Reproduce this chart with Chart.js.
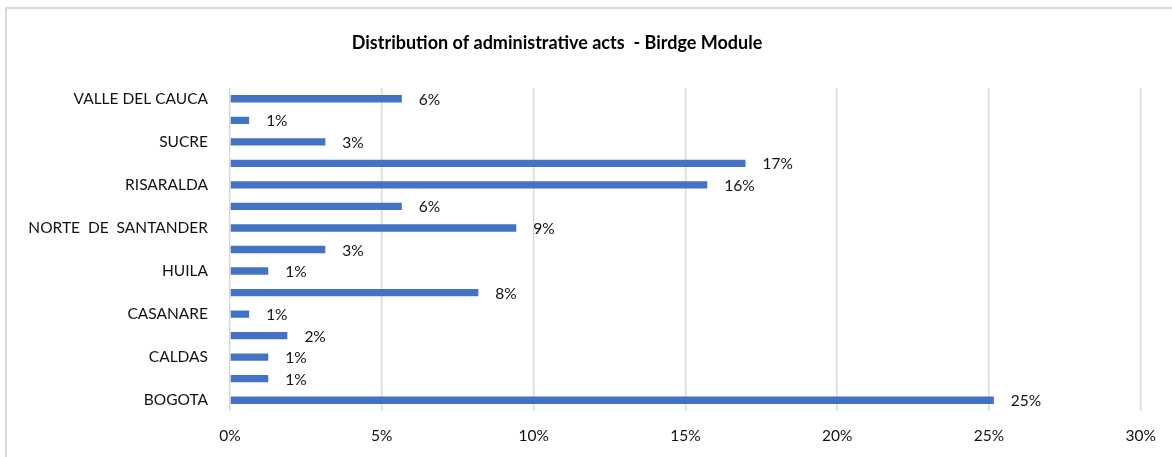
<!DOCTYPE html>
<html>
<head>
<meta charset="utf-8">
<script src="https://cdn.jsdelivr.net/npm/chart.js@4.4.1/dist/chart.umd.min.js"></script>
<style>
html, body { margin: 0; padding: 0; background: #fff; overflow: hidden; }
#frame { position: absolute; left: 5px; top: 7px; width: 1200px; height: 480px; border: 2px solid #d9d9d9; box-sizing: border-box; }
#wrap { position: absolute; left: 0; top: 0; width: 1172px; height: 457px; }
</style>
</head>
<body>
<div id="frame"></div>
<div id="wrap"><canvas id="chart"></canvas></div>
<script>
const title = "Distribution of administrative acts  - Birdge Module"

// bottom to top
const departments = ["BOGOTA", "BOYACA", "CALDAS", "CAQUETA", "CASANARE", "CUNDINAMARCA", "HUILA", "META",
  "NORTE  DE  SANTANDER", "QUINDIO", "RISARALDA", "SANTANDER", "SUCRE", "TOLIMA", "VALLE DEL CAUCA"]
const shares = [25.16, 1.26, 1.26, 1.89, 0.63, 8.18, 1.26, 3.14, 9.43, 5.66, 15.72, 16.98, 3.14, 0.63, 5.66]
const xTicks = [0, 5, 10, 15, 20, 25, 30]

const font = "Lato, 'Open Sans', sans-serif"

const barLabels = {
  id: 'barLabels',
  afterDatasetsDraw(chart) {
    const ctx = chart.ctx
    ctx.save()
    ctx.font = "15.5px " + font
    ctx.fillStyle = "#111"
    ctx.textBaseline = "middle"
    ctx.textAlign = "left"
    chart.getDatasetMeta(0).data.forEach((bar, i) => {
      ctx.fillText(Math.round(shares[i]) + "%", bar.x + 17, bar.y + 1)
    })
    ctx.restore()
  },
  afterDraw(chart) {
    const ctx = chart.ctx
    ctx.save()
    ctx.font = "bold 18px " + font
    ctx.fillStyle = "#000"
    ctx.textAlign = "center"
    ctx.textBaseline = "middle"
    ctx.fillText(title, 557, 43)
    ctx.restore()
  }
}

const ctx = document.getElementById('chart').getContext('2d')

new Chart(ctx, {
  type: 'bar',
  data: {
    labels: departments,
    datasets: [{
      data: shares,
      backgroundColor: "#4472C4",
      barPercentage: 0.34,
      categoryPercentage: 1
    }]
  },
  options: {
    indexAxis: 'y',
    responsive: true,
    maintainAspectRatio: false,
    animation: false,
    layout: { padding: { top: 88, right: 30, left: 0, bottom: 0 } },
    plugins: { legend: { display: false }, tooltip: { enabled: false }, title: { display: false } },
    scales: {
      x: {
        min: 0,
        max: 30,
        afterBuildTicks: s => { s.ticks = xTicks.map(v => ({ value: v })) },
        afterFit: s => { s.height = 46 },
        ticks: { callback: v => v + "%", color: "#111", font: { family: font, size: 15.5 }, padding: 16 },
        grid: { color: "#d9d9d9", lineWidth: 1.5, drawTicks: false },
        border: { display: false }
      },
      y: {
        reverse: true,
        afterFit: s => { s.width = 230 },
        ticks: {
          autoSkip: false,
          callback: (v, i) => i % 2 === 0 ? departments[i] : "",
          color: "#111",
          font: { family: font, size: 15.5 },
          padding: 22
        },
        grid: { display: false, drawTicks: false },
        border: { display: false }
      }
    }
  },
  plugins: [barLabels]
})
</script>
</body>
</html>
